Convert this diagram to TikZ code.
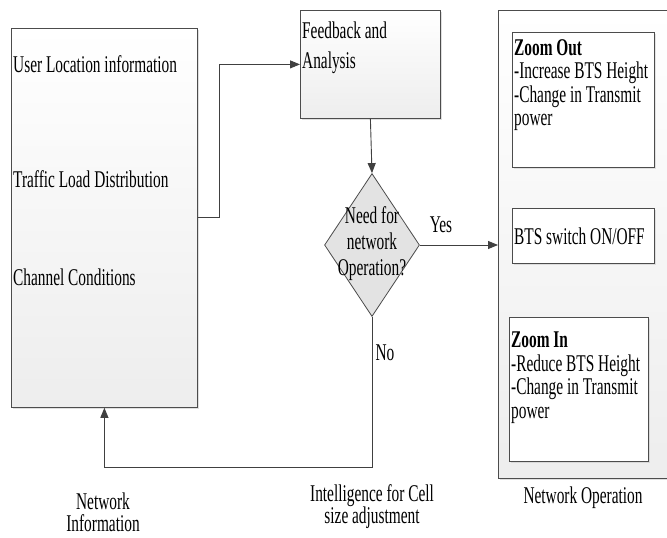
\documentclass[tikz,border=0pt]{standalone}
\usepackage{fontspec}
\setmainfont{Liberation Serif}[FakeStretch=0.64]
\usetikzlibrary{shapes.geometric,shadows,arrows.meta}
\begin{document}
\begin{tikzpicture}[x=1pt,y=-1pt,
  font=\fontsize{24}{23.5}\selectfont,
  box/.style={draw=black!70, line width=0.8pt, top color=white, bottom color=gray!14,
    drop shadow={opacity=0.25,shadow xshift=2pt,shadow yshift=-2pt}},
  ibox/.style={draw=black!70, line width=0.8pt, fill=white,
    drop shadow={opacity=0.2,shadow xshift=2pt,shadow yshift=-2pt}},
  txt/.style={inner sep=0pt, anchor=north west, align=left},
  lbl/.style={inner sep=0pt, align=center},
  conn/.style={draw=black!75, line width=0.9pt},
  arr/.style={conn, -{Triangle[length=10pt,width=8pt]}}]
\useasboundingbox (0,0) rectangle (667,538);

% left information box
\node[box, minimum width=186pt, minimum height=379pt, anchor=north west, inner sep=0pt] (info) at (11,28) {};
\node[inner sep=0pt, anchor=base west] (t1) at (13,72) {User Location information};
\node[inner sep=0pt, anchor=base west] (t2) at (13,187) {Traffic Load Distribution};
\node[inner sep=0pt, anchor=base west] (t3) at (13,285) {Channel Conditions};

% feedback box
\node[box, minimum width=140pt, minimum height=108pt, anchor=north west, inner sep=0pt] (fb) at (300,10) {};
\node[inner sep=0pt, anchor=base west] (fbt1) at (302,38) {Feedback and};
\node[inner sep=0pt, anchor=base west] (fbt2) at (302,68) {Analysis};

% decision diamond
\node[diamond, draw=black!70, line width=0.8pt, fill=gray!22, minimum width=95pt, minimum height=143pt, inner sep=0pt] (dec) at (372,245) {};
\node[lbl, font=\fontsize{24}{26}\selectfont] (dt) at (372,244) {Need for\\network\\Operation?};

% network operation box
\node[box, minimum width=172pt, minimum height=468pt, anchor=north west, inner sep=0pt] (op) at (498,10) {};
\node[ibox, minimum width=142pt, minimum height=135pt, anchor=north west, inner sep=0pt] (zo) at (512,32) {};
\node[txt] (zot) at (514,39) {\textbf{Zoom Out}\\-Increase BTS Height\\-Change in Transmit\\power};
\node[ibox, minimum width=142pt, minimum height=55pt, anchor=north west, inner sep=0pt] (bts) at (512,208) {};
\node[inner sep=0pt, anchor=west] (btst) at (514,236) {BTS switch ON/OFF};
\node[ibox, minimum width=139pt, minimum height=144pt, anchor=north west, inner sep=0pt] (zi) at (509,317) {};
\node[txt] (zit) at (511,332) {\textbf{Zoom In}\\-Reduce BTS Height\\-Change in Transmit\\power};

% connectors
\draw[arr] (info.east) -- ++(22,0) |- (fb.west);
\draw[arr] (fb.south) -- (dec.north);
\draw[arr] (dec.east) -- (op.west |- dec.east);
\draw[arr] (dec.south) -- (dec.south |- 0,467) -| (info.south);

% labels
\node[lbl] (yes) at (441,225) {Yes};
\node[lbl] (no) at (385,353) {No};
\node[lbl, font=\fontsize{24}{22}\selectfont] (ni) at (103,512) {Network\\Information};
\node[lbl, font=\fontsize{24}{22}\selectfont] (ic) at (372,507) {Intelligence for Cell\\size adjustment};
\node[lbl] (nop) at (583,498) {Network Operation};
\end{tikzpicture}
\end{document}
